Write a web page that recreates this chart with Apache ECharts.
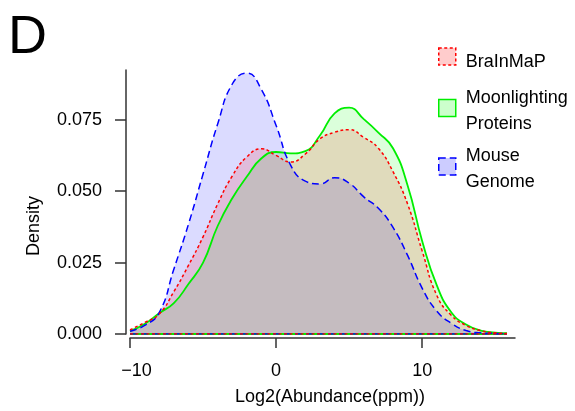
<!DOCTYPE html>
<html>
<head>
<meta charset="utf-8">
<script src="https://cdn.jsdelivr.net/npm/echarts@6/dist/echarts.min.js"></script>
<style>html,body{margin:0;padding:0;background:#fff}#c{width:575px;height:411px}</style>
</head>
<body>
<div id="c"></div>
<script>
// Log2(Abundance(ppm)) grid
const xs = [-10,-9,-8,-7,-6,-5,-4,-3,-2,-1,0,1,2,3,4,5,6,7,8,9,10,11,12,13,14,15,15.8];
const moonlighting = [0.001,0.0035,0.0073,0.0108,0.0175,0.025,0.0378,0.0475,0.0551,0.0615,0.0637,0.0632,0.064,0.0695,0.0772,0.0792,0.0752,0.0705,0.065,0.052,0.0325,0.017,0.0075,0.0033,0.0012,0.0005,0.0003];
const mouseGenome = [0.001,0.003,0.0075,0.0227,0.0384,0.056,0.0735,0.0875,0.0913,0.0855,0.073,0.059,0.0535,0.0525,0.0547,0.0528,0.048,0.044,0.0373,0.0275,0.016,0.008,0.0037,0.0012,0.0004,0.0002,0.0001];
const brainMap = [0.0015,0.004,0.007,0.0148,0.024,0.034,0.0455,0.0553,0.062,0.0648,0.0625,0.0602,0.063,0.0683,0.0706,0.0715,0.0688,0.065,0.0568,0.0455,0.029,0.0135,0.0065,0.003,0.0012,0.0004,0.0002];
const seriesNames = ['BraInMaP','Moonlighting Proteins','Mouse Genome'];
const xTicks = [-10,0,10];
const yTicks = [0,0.025,0.05,0.075];

const FONT = 'Liberation Sans, Arial, sans-serif';
const styles = {
  'BraInMaP': {line:'#ff0000', fill:'rgba(255,0,0,0.2)', dash:[3,2.5], width:1.5},
  'Moonlighting Proteins': {line:'#00ee00', fill:'rgba(0,255,0,0.2)', dash:'solid', width:1.8},
  'Mouse Genome': {line:'#0000ff', fill:'rgba(0,0,255,0.2)', dash:[7,4], width:1.5}
};
const pair = arr => xs.map((x,i)=>[x,arr[i]]);
function densSeries(name, arr){
  const s = styles[name];
  return {
    name, type:'line', data: pair(arr), smooth:0.5, showSymbol:false, symbol:'none',
    lineStyle:{color:s.line, width:s.width, type:s.dash},
    itemStyle:{color:s.line},
    areaStyle:{color:s.fill, origin:'start'},
    emphasis:{disabled:true}, silent:true
  };
}
function baseSeries(name){
  const s = styles[name];
  return {
    name: name+' base', type:'line', data:[[xs[0],0],[xs[xs.length-1],0]],
    showSymbol:false, symbol:'none', silent:true,
    lineStyle:{color:s.line, width:s.width, type:s.dash}
  };
}
function legendFor(name, top, shift){
  const s = styles[name];
  return {
    left: 438, top: top, padding: 0, orient:'vertical', icon:'rect',
    itemWidth:17, itemHeight:17, selectedMode:false,
    data:[{name, itemStyle:{color:s.fill, borderColor:s.line, borderWidth:1.5, borderType:s.dash}}],
    formatter: n => '{s| }\n' + n.split(' ').map(w => '{t|' + w + '}').join('\n'),
    textStyle:{fontFamily:FONT, fontSize:18, color:'#000',
      rich:{
        s:{fontSize:1, lineHeight:shift, padding:[0,0,0,5]},
        t:{fontFamily:FONT, fontSize:18, color:'#000', lineHeight:26, padding:[0,0,0,5]}
      }}
  };
}

const chart = echarts.init(document.getElementById('c'), null, {renderer:'canvas'});
chart.setOption({
  animation:false,
  backgroundColor:'#fff',
  title:{text:'D', left:8, top:11, padding:0, textStyle:{fontFamily:FONT, fontSize:54, fontWeight:'normal', color:'#000'}},
  legend:[legendFor(seriesNames[0], 43, 11), legendFor(seriesNames[1], 81.5, 7), legendFor(seriesNames[2], 140, 5)],
  grid:{left:130, top:70, width:385, height:264, outerBoundsMode:'none'},
  xAxis:{
    type:'value', min:-10, max:16.35, offset:4,
    name:'Log2(Abundance(ppm))', nameLocation:'middle', nameGap:50,
    nameTextStyle:{fontFamily:FONT, fontSize:18, color:'#000', padding:[0,0,0,15]},
    axisLine:{show:true, onZero:false, lineStyle:{color:'#333', width:1.5}},
    axisTick:{show:true, length:10, customValues:xTicks, lineStyle:{color:'#333', width:1.5}},
    axisLabel:{customValues:xTicks, fontFamily:FONT, fontSize:18, color:'#000', margin:24,
      formatter: v => v < 0 ? '{n|\u2212' + Math.abs(v) + '}' : String(v),
      rich:{n:{fontFamily:FONT, fontSize:18, color:'#000', padding:[0,0,0,13]}}},
    splitLine:{show:false}
  },
  yAxis:{
    type:'value', min:0, max:0.0924, offset:4,
    name:'Density', nameLocation:'middle', nameGap:83, nameRotate:90,
    nameTextStyle:{fontFamily:FONT, fontSize:18, color:'#000', padding:[0,48,0,0]},
    axisLine:{show:true, onZero:false, lineStyle:{color:'#333', width:1.5}},
    axisTick:{show:true, length:11, customValues:yTicks, lineStyle:{color:'#333', width:1.5}},
    axisLabel:{customValues:yTicks, fontFamily:FONT, fontSize:18, color:'#000', margin:24,
      formatter: v => v.toFixed(3)},
    splitLine:{show:false}
  },
  series:[
    densSeries('Moonlighting Proteins', moonlighting),
    baseSeries('Moonlighting Proteins'),
    densSeries('Mouse Genome', mouseGenome),
    baseSeries('Mouse Genome'),
    densSeries('BraInMaP', brainMap),
    baseSeries('BraInMaP')
  ]
});
</script>
</body>
</html>
